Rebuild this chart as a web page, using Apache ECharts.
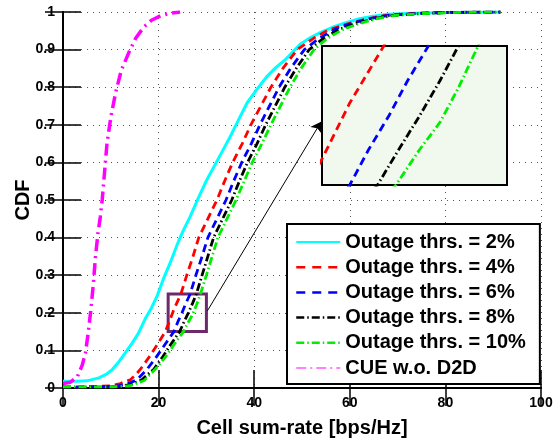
<!DOCTYPE html>
<html>
<head>
<meta charset="utf-8">
<script src="https://cdn.jsdelivr.net/npm/echarts@6/dist/echarts.min.js"></script>
<style>
  html, body { margin: 0; padding: 0; background: #fff; }
  #main { width: 559px; height: 438px; }
</style>
</head>
<body>
<div id="main"></div>
<script>
// CDF 曲线数据 [速率, CDF]
var cue2 = [[0,0.018],[3,0.018],[5,0.019],[7.5,0.027],[9,0.036],[10.3,0.049],[11.7,0.07],[13,0.093],[14.5,0.12],[15.8,0.146],[17.2,0.184],[18.3,0.208],[19.7,0.245],[21,0.29],[22.4,0.332],[24,0.385],[25.2,0.42],[26.6,0.456],[28.3,0.505],[30.1,0.554],[32.5,0.61],[35,0.669],[36.8,0.715],[38.5,0.758],[40.6,0.795],[42.7,0.829],[44.5,0.852],[46.5,0.873],[49.6,0.914],[51.8,0.932],[53.8,0.945],[56.5,0.96],[59.4,0.972],[62,0.982],[64.9,0.989],[68,0.994],[73.3,0.997],[80,0.999],[91.5,1]];
var cue4 = [[0,0.002],[5,0.003],[10,0.006],[12,0.012],[14.1,0.022],[15.2,0.035],[16.2,0.05],[17.9,0.08],[19.7,0.115],[21.4,0.15],[22.04,0.17],[23.2,0.209],[24.67,0.25],[25.9,0.3],[27.2,0.35],[28.4,0.4],[30.3,0.45],[32.2,0.5],[33.8,0.55],[35.5,0.6],[37.5,0.65],[39.3,0.7],[41.4,0.75],[43.5,0.8],[46,0.85],[49,0.9],[52.4,0.93],[55.5,0.952],[59.4,0.968],[63,0.98],[67,0.99],[73,0.996],[80,0.999],[91.5,1]];
var cue6 = [[0,0.002],[5,0.003],[10,0.004],[13,0.008],[15.5,0.022],[17.6,0.05],[19.4,0.08],[21.3,0.115],[23.2,0.15],[24,0.175],[24.9,0.2],[25.7,0.225],[26.6,0.25],[27.8,0.3],[29.1,0.35],[30.3,0.4],[32.2,0.45],[34.1,0.5],[35.7,0.55],[37.4,0.6],[39.4,0.65],[41.2,0.7],[43.2,0.75],[45.2,0.8],[47.6,0.85],[50.5,0.9],[53.6,0.93],[57,0.955],[60.5,0.97],[64,0.982],[68,0.991],[74,0.996],[81,0.999],[91.5,1]];
var cue8 = [[0,0.002],[6,0.002],[10,0.003],[14,0.008],[16.5,0.022],[19,0.05],[20.7,0.08],[22.5,0.115],[24.4,0.15],[25.3,0.175],[26.23,0.2],[27.1,0.225],[27.9,0.25],[29.1,0.3],[30.3,0.35],[31.5,0.4],[33.4,0.45],[35.3,0.5],[36.9,0.55],[38.6,0.6],[40.6,0.65],[42.4,0.7],[44.4,0.75],[46.4,0.8],[48.8,0.85],[51.5,0.9],[54.5,0.93],[58,0.955],[61.5,0.97],[65,0.982],[69,0.991],[75,0.996],[82,0.999],[91.5,1]];
var cue10 = [[0,0.003],[6,0.003],[10,0.003],[14,0.006],[17,0.02],[19.3,0.05],[21.3,0.08],[23.2,0.115],[25.2,0.15],[26.2,0.175],[27.1,0.195],[27.9,0.22],[28.75,0.25],[30,0.3],[31.2,0.35],[32.4,0.4],[34.3,0.45],[36.2,0.5],[37.9,0.55],[39.6,0.6],[41.6,0.65],[43.5,0.7],[45.5,0.75],[47.5,0.8],[49.8,0.85],[52.5,0.9],[55.3,0.93],[58.8,0.955],[62.2,0.97],[65.5,0.982],[69.5,0.991],[75.5,0.996],[83,0.999],[91.5,1]];
var noD2D = [[0,0.012],[1.5,0.015],[3,0.03],[4,0.06],[4.7,0.093],[5.3,0.15],[5.8,0.205],[6.3,0.27],[6.8,0.35],[7.3,0.41],[7.8,0.455],[8.2,0.5],[8.7,0.575],[9.2,0.65],[10,0.72],[11,0.785],[12.2,0.845],[13.7,0.89],[15.2,0.93],[16.9,0.96],[18.5,0.978],[20.4,0.99],[22.5,0.997],[24.5,1]];

var names = ['Outage thrs. = 2%', 'Outage thrs. = 4%', 'Outage thrs. = 6%', 'Outage thrs. = 8%', 'Outage thrs. = 10%', 'CUE w.o. D2D'];

// 放大框范围 (x: 22~30, y: 0.15~0.25) 与箭头终点
var zoomBox = [[22, 0.25], [30, 0.15]];
var arrowLine = [[30.2, 0.205], [54, 0.708]];

var font = 'Liberation Sans, Arial, sans-serif';

var styles = [
  { color: '#00ffff', width: 3, type: 'solid' },
  { color: '#ff0000', width: 2.8, type: [8, 5] },
  { color: '#0000ff', width: 2.8, type: [8, 5] },
  { color: '#000000', width: 2.8, type: [8, 3, 1.5, 3] },
  { color: '#00ee00', width: 2.8, type: [8, 3, 1.5, 3] },
  { color: '#ff00ff', width: 3.5, type: [12, 5, 2, 5] }
];
var datasets = [cue2, cue4, cue6, cue8, cue10, noD2D];

var series = [];
for (var i = 0; i < datasets.length; i++) {
  series.push({
    name: names[i],
    type: 'line',
    data: datasets[i],
    symbol: 'none',
    showSymbol: false,
    lineStyle: styles[i],
    itemStyle: { color: styles[i].color },
    xAxisIndex: 0,
    yAxisIndex: 0
  });
}
// 方框和箭头
series[0].markArea = {
  silent: true,
  itemStyle: { color: 'rgba(0,0,0,0)', borderColor: '#6a2a6c', borderWidth: 3 },
  data: [[{ coord: zoomBox[0] }, { coord: zoomBox[1] }]]
};
series[0].markLine = {
  silent: true,
  symbol: ['none', 'arrow'],
  symbolSize: 10,
  label: { show: false },
  lineStyle: { color: '#000', width: 1, type: 'solid' },
  data: [[{ coord: arrowLine[0] }, { coord: arrowLine[1] }]]
};
// 局部放大图
for (var j = 1; j < 5; j++) {
  series.push({
    name: names[j],
    type: 'line',
    data: datasets[j],
    symbol: 'none',
    showSymbol: false,
    lineStyle: styles[j],
    xAxisIndex: 2,
    yAxisIndex: 2,
    z: 6
  });
}

var myChart = echarts.init(document.getElementById('main'));
myChart.setOption({
  animation: false,
  backgroundColor: '#fff',
  textStyle: { fontFamily: font },
  grid: [
    { left: 63, top: 12, width: 478, height: 376, outerBoundsMode: 'none', containLabel: false },
    { left: 322, top: 46, width: 185, height: 139, outerBoundsMode: 'none', containLabel: false, show: true, backgroundColor: '#f1f9ee', borderColor: '#000', borderWidth: 2, z: 5 }
  ],
  legend: {
    orient: 'vertical',
    left: 287,
    top: 224,
    padding: [8, 14, 6, 8],
    itemWidth: 44,
    itemHeight: 14,
    itemGap: 5.2,
    backgroundColor: '#fff',
    borderColor: '#000',
    borderWidth: 2,
    itemStyle: { opacity: 0 },
    textStyle: { fontFamily: font, fontSize: 20, fontWeight: 'bold', color: '#000', lineHeight: 20 },
    data: [
      { name: names[0] },
      { name: names[1], lineStyle: { width: 2.5, type: [9, 7] } },
      { name: names[2], lineStyle: { width: 2.5, type: [9, 7] } },
      { name: names[3], lineStyle: { width: 2.5 } },
      { name: names[4], lineStyle: { width: 2.5 } },
      { name: names[5], lineStyle: { width: 1, type: [10, 4, 2, 4] } }
    ],
    z: 7
  },
  xAxis: [
    {
      type: 'value', gridIndex: 0, min: 0, max: 100, interval: 20, position: 'bottom',
      name: 'Cell sum-rate [bps/Hz]', nameLocation: 'middle', nameGap: 30,
      nameTextStyle: { fontFamily: font, fontSize: 20, fontWeight: 'bold', color: '#000' },
      axisLine: { lineStyle: { color: '#000', width: 2 } },
      axisTick: { inside: true, length: 18, lineStyle: { color: '#000', width: 1.5 } },
      axisLabel: { fontFamily: font, fontSize: 14, fontWeight: 'bold', color: '#000', margin: 8 },
      splitLine: { show: true, lineStyle: { color: '#555', width: 1, type: [1, 5] } }
    },
    {
      type: 'value', gridIndex: 0, min: 0, max: 100, interval: 20, position: 'top',
      axisLine: { lineStyle: { color: '#000', width: 2 } },
      axisTick: { inside: true, length: 18, lineStyle: { color: '#000', width: 1.5 } },
      axisLabel: { show: false },
      splitLine: { show: false }
    },
    { type: 'value', gridIndex: 1, min: 22, max: 30, show: false }
  ],
  yAxis: [
    {
      type: 'value', gridIndex: 0, min: 0, max: 1, interval: 0.1, position: 'left',
      name: 'CDF', nameLocation: 'middle', nameGap: 30, nameRotate: 90, nameMoveOverlap: false,
      nameTextStyle: { fontFamily: font, fontSize: 20, fontWeight: 'bold', color: '#000' },
      axisLine: { lineStyle: { color: '#000', width: 2 } },
      axisTick: { inside: true, length: 18, lineStyle: { color: '#000', width: 1.5 } },
      axisLabel: { fontFamily: font, fontSize: 14, fontWeight: 'bold', color: '#000', margin: 8 },
      splitLine: { show: true, lineStyle: { color: '#555', width: 1, type: [1, 5] } }
    },
    {
      type: 'value', gridIndex: 0, min: 0, max: 1, interval: 0.1, position: 'right',
      axisLine: { lineStyle: { color: '#000', width: 2 } },
      axisTick: { inside: true, length: 18, lineStyle: { color: '#000', width: 1.5 } },
      axisLabel: { show: false },
      splitLine: { show: false }
    },
    { type: 'value', gridIndex: 1, min: 0.15, max: 0.25, show: false }
  ],
  series: series
});
</script>
</body>
</html>
